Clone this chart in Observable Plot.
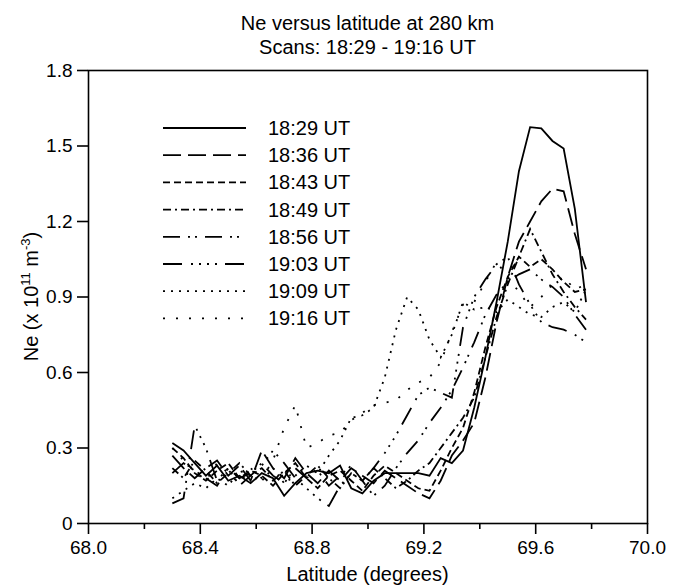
<!DOCTYPE html>
<html>
<head>
<meta charset="utf-8">
<script src="https://cdn.jsdelivr.net/npm/d3@7"></script>
<script src="https://cdn.jsdelivr.net/npm/@observablehq/plot@0.6"></script>
<style>
  html, body { margin: 0; padding: 0; background: #fff; }
  #chart { width: 679px; height: 585px; }
</style>
</head>
<body>
<div id="chart"></div>
<script>
// Latitude samples (degrees)
const lat = [68.30, 68.34, 68.38, 68.42, 68.46, 68.50, 68.54, 68.58, 68.62, 68.66,
             68.70, 68.74, 68.78, 68.82, 68.86, 68.90, 68.94, 68.98, 69.02, 69.06,
             69.10, 69.14, 69.18, 69.22, 69.26, 69.30, 69.34, 69.38, 69.42, 69.46,
             69.50, 69.54, 69.58, 69.62, 69.66, 69.70, 69.74, 69.78];

// Ne (x 10^11 m^-3) for each scan
const s1829 = [0.32,0.29,0.24,0.19,0.23,0.17,0.19,0.16,0.20,0.18,0.11,0.16,0.20,0.21,0.20,0.23,0.14,0.12,0.17,0.20,0.20,0.20,0.20,0.19,0.26,0.24,0.29,0.46,0.66,0.88,1.12,1.40,1.575,1.57,1.52,1.49,1.25,0.88];
const s1836 = [0.27,0.22,0.18,0.22,0.25,0.19,0.23,0.17,0.29,0.22,0.18,0.26,0.20,0.16,0.21,0.17,0.22,0.19,0.16,0.21,0.18,0.15,0.12,0.10,0.17,0.27,0.33,0.40,0.58,0.80,0.98,1.12,1.20,1.28,1.33,1.32,1.15,1.01];
const s1843 = [0.30,0.26,0.20,0.17,0.21,0.24,0.18,0.21,0.19,0.15,0.20,0.24,0.18,0.14,0.19,0.21,0.17,0.13,0.19,0.23,0.20,0.17,0.14,0.13,0.21,0.30,0.38,0.52,0.70,0.86,0.98,1.06,1.02,1.05,1.01,0.96,0.92,0.93];
const s1849 = [0.22,0.18,0.25,0.21,0.16,0.20,0.24,0.19,0.22,0.17,0.21,0.15,0.19,0.23,0.18,0.14,0.20,0.17,0.22,0.18,0.14,0.17,0.21,0.24,0.30,0.36,0.42,0.50,0.66,0.82,0.95,1.06,1.17,1.08,0.99,0.92,0.86,0.81];
const s1856 = [0.20,0.24,0.21,0.18,0.15,0.22,0.18,0.20,0.24,0.19,0.16,0.22,0.18,0.21,0.15,0.19,0.23,0.17,0.11,0.15,0.22,0.28,0.33,0.40,0.46,0.53,0.62,0.72,0.83,0.91,0.96,0.99,1.01,0.97,0.94,0.90,0.83,0.77];
const s1903 = [0.08,0.10,0.39,0.30,0.17,0.22,0.15,0.19,0.23,0.29,0.24,0.18,0.14,0.10,0.07,0.15,0.20,0.17,0.22,0.28,0.35,0.43,0.51,0.54,0.52,0.50,0.78,0.90,0.97,1.03,1.06,0.95,0.87,0.80,0.78,0.77,0.75,0.72];
const s1909 = [0.10,0.13,0.16,0.14,0.18,0.15,0.21,0.19,0.17,0.22,0.16,0.19,0.23,0.20,0.27,0.33,0.42,0.43,0.46,0.58,0.77,0.90,0.85,0.73,0.66,0.75,0.88,0.85,0.86,0.84,0.89,0.86,0.83,0.82,0.86,0.88,0.84,0.93];
const s1916 = [0.30,0.25,0.21,0.17,0.24,0.20,0.16,0.22,0.18,0.25,0.38,0.47,0.30,0.32,0.35,0.36,0.41,0.44,0.47,0.48,0.49,0.53,0.56,0.58,0.64,0.76,0.87,0.88,0.96,1.04,0.98,0.92,0.86,0.90,0.95,0.98,0.93,0.95];

const scans = ["18:29 UT","18:36 UT","18:43 UT","18:49 UT","18:56 UT","19:03 UT","19:09 UT","19:16 UT"];
const seriesValues = [s1829, s1836, s1843, s1849, s1856, s1903, s1909, s1916];

// Tick values
const xMajor = [68.0, 68.4, 68.8, 69.2, 69.6, 70.0];
const xMinor = [68.2, 68.6, 69.0, 69.4, 69.8];
const yTicks = [0, 0.3, 0.6, 0.9, 1.2, 1.5, 1.8];

// Line styles (dash patterns) per scan
const dashes = [null, "18,7", "7,4", "8,4,2,4", "17,8,2,5,2,8", "19,9,2,6,2,6,2,6,2,8", "2,6", "2,11"];

const rows = seriesValues.flatMap((vals, i) => vals.map((v, j) => ({scan: scans[i], lat: lat[j], ne: v})));

const font = "'Liberation Sans', Arial, Helvetica, sans-serif";

const chart = Plot.plot({
  width: 679,
  height: 585,
  marginTop: 70,
  marginBottom: 62,
  marginLeft: 88,
  marginRight: 32,
  style: {fontFamily: font, fontSize: "19px", color: "#000", background: "#fff", overflow: "visible"},
  x: {domain: [68, 70]},
  y: {domain: [0, 1.8]},
  marks: [
    ...scans.map((s, i) => Plot.line(rows.filter(r => r.scan === s), {
      x: "lat", y: "ne", stroke: "#000", strokeWidth: 1.8,
      strokeDasharray: dashes[i] || undefined,
      strokeLinecap: "butt", strokeLinejoin: "miter", strokeMiterlimit: 4
    })),
    Plot.frame({stroke: "#000", strokeWidth: 1.6}),
    Plot.axisX(xMajor, {tickSize: 11, tickPadding: 6, tickFormat: d => d.toFixed(1), label: null, strokeWidth: 1.6}),
    Plot.axisX(xMinor, {tickSize: 6, tickFormat: () => "", label: null, strokeWidth: 1.6}),
    Plot.axisY(yTicks, {tickSize: 11, tickPadding: 5, tickFormat: d => d === 0 ? "0" : d.toFixed(1), label: null, strokeWidth: 1.6})
  ]
});

document.getElementById("chart").appendChild(chart);

const svg = d3.select(chart);
const cx = (88 + 647) / 2;

// Title
const title = svg.append("g").attr("font-family", font).attr("font-size", 20).attr("text-anchor", "middle").attr("fill", "#000");
title.append("text").attr("x", cx).attr("y", 30).text("Ne versus latitude at 280 km");
title.append("text").attr("x", cx).attr("y", 54).text("Scans: 18:29 - 19:16 UT");

// X label
svg.append("text").attr("font-family", font).attr("font-size", 20).attr("text-anchor", "middle")
  .attr("x", cx).attr("y", 581).text("Latitude (degrees)");

// Y label with superscripts
const yl = svg.append("text").attr("font-family", font).attr("font-size", 20).attr("text-anchor", "middle")
  .attr("transform", `translate(38,${(70 + 523) / 2}) rotate(-90)`);
yl.append("tspan").text("Ne (x 10");
yl.append("tspan").attr("font-size", 13).attr("dy", -8).text("11");
yl.append("tspan").attr("dy", 8).text(" m");
yl.append("tspan").attr("font-size", 13).attr("dy", -8).text("-3");
yl.append("tspan").attr("dy", 8).text(")");

// Legend
const lg = svg.append("g").attr("font-family", font).attr("font-size", 20).attr("text-anchor", "start");
scans.forEach((s, i) => {
  const yy = 128 + i * 27.2;
  lg.append("line").attr("x1", 163).attr("x2", 246).attr("y1", yy).attr("y2", yy)
    .attr("stroke", "#000").attr("stroke-width", 1.8)
    .attr("stroke-dasharray", dashes[i] || null).attr("stroke-linecap", "butt");
  lg.append("text").attr("x", 268).attr("y", yy + 7).attr("text-anchor", "start").text(s);
});
</script>
</body>
</html>
